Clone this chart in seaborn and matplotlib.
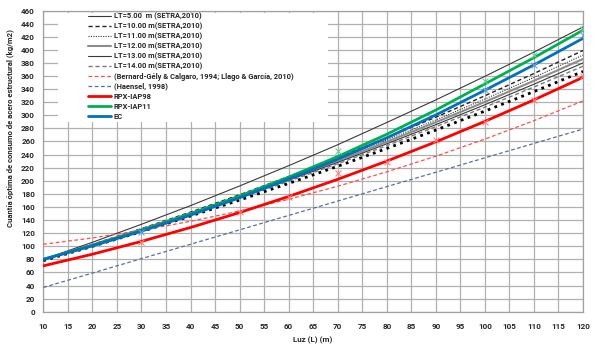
import numpy as np
import pandas as pd
import matplotlib
matplotlib.use("Agg")
import matplotlib.pyplot as plt
from matplotlib.patches import Rectangle
import seaborn as sns

# Span L (m)
luz = [10, 20, 30, 40, 50, 60, 70, 80, 90, 100, 110, 120]

# Values (kg/m2)
lt05 = [80, 106, 133.5, 162, 192, 223, 255, 289, 323.5, 359.5, 396.5, 435]
lt10 = [80, 102.8, 126.9, 152.1, 178.6, 206.4, 235.4, 265.7, 297.1, 329.8, 363.8, 399]
lt11 = [80, 102.6, 126.3, 151.1, 177.2, 204.4, 232.8, 262.3, 292.9, 324.8, 357.8, 392]
lt12 = [80, 102.4, 125.7, 150.3, 175.9, 202.7, 230.4, 259.4, 289.4, 320.5, 352.7, 386]
lt13 = [80, 102.1, 125.2, 149.4, 174.5, 200.8, 228, 256.4, 285.7, 316.1, 347.5, 380]
lt14 = [80, 101.8, 124.6, 148.5, 173.3, 199.1, 225.9, 253.7, 282.6, 312.4, 343.2, 375]
extra_dotted = [78, 99.8, 122.4, 146.1, 170.5, 195.9, 222.1, 249.3, 277.4, 306.4, 336.2, 367]
bernard = [103, 112.6, 124.3, 138, 153.8, 171.7, 191.6, 213.6, 237.5, 263.6, 291.8, 322]
haensel = [37, 59, 81, 103, 125, 147, 169, 191, 213, 235, 257, 279]
rpx98 = [70, 87.8, 107.4, 128.6, 151.4, 176, 202.2, 230, 259.4, 290.7, 323.5, 358]
rpx11 = [80, 101, 124, 149.5, 176.5, 205.5, 237, 271, 308, 347.9, 388, 430]
ec = [80, 100.5, 123, 147.5, 174, 202.5, 233, 265.5, 300.5, 338.3, 377, 417.5]

# scattered marker points
rpx98_pts_x = [30, 50, 60, 70, 80, 90, 100, 110, 120]
rpx98_pts_y = [107, 152, 175, 212, 229, 263, 290, 324, 360]
rpx11_pts_x = [70, 100, 110, 120]
rpx11_pts_y = [245, 352, 392, 432]
ec_pts_x = [30, 100, 110, 120]
ec_pts_y = [122, 339, 377, 422]

sns.set_style("white")
plt.rcParams['font.family'] = ['Roboto', 'DejaVu Sans']
plt.rcParams['font.weight'] = 'bold'

fig = plt.figure(figsize=(6, 3.51), dpi=100)
ax = fig.add_axes([0.0722, 0.112, 0.8995, 0.858])

series = [
    (lt05, 'LT=5.00  m (SETRA,2010)', dict(color='#3a3a3a', lw=0.8, ls='-')),
    (lt10, 'LT=10.00 m(SETRA,2010)', dict(color='#222222', lw=1.0, ls=(0, (3, 2)))),
    (lt11, 'LT=11.00 m(SETRA,2010)', dict(color='#333333', lw=0.8, ls=(0, (1, 1.2)))),
    (lt12, 'LT=12.00 m(SETRA,2010)', dict(color='#8c8c8c', lw=1.5, ls='-')),
    (lt13, 'LT=13.00 m(SETRA,2010)', dict(color='#3a3a3a', lw=0.8, ls='-')),
    (lt14, 'LT=14.00 m(SETRA,2010)', dict(color='#7a7a7a', lw=1.0, ls=(0, (3, 2)))),
    (extra_dotted, '_nolegend_', dict(color='#000000', lw=2.0, ls=(0, (1, 1.6)))),
    (bernard, '(Bernard-Gély & Calgaro, 1994; Llago & García, 2010)',
     dict(color='#ff4d4d', lw=0.9, ls=(0, (3, 2)))),
    (haensel, '(Haensel, 1998)', dict(color='#5a6f96', lw=0.9, ls=(0, (3, 2)))),
    (rpx98, 'RPX-IAP98', dict(color='#ff0000', lw=2.0, ls='-')),
    (rpx11, 'RPX-IAP11', dict(color='#00b050', lw=2.0, ls='-')),
    (ec, 'EC', dict(color='#0070c0', lw=2.0, ls='-')),
]

for vals, lab, st in series:
    sns.lineplot(x=luz, y=vals, ax=ax, label=lab, color=st['color'],
                 linewidth=st['lw'], linestyle=st['ls'], zorder=3)

sns.scatterplot(x=rpx98_pts_x, y=rpx98_pts_y, ax=ax, marker='x', s=18,
                color='#ff8080', linewidth=0.8, zorder=4, legend=False)
sns.scatterplot(x=rpx11_pts_x, y=rpx11_pts_y, ax=ax, marker='x', s=18,
                color='#66cc99', linewidth=0.8, zorder=4, legend=False)
sns.scatterplot(x=ec_pts_x, y=ec_pts_y, ax=ax, marker='x', s=18,
                color='#66aadd', linewidth=0.8, zorder=4, legend=False)

ax.set_xlim(10, 120)
ax.set_ylim(0, 460)
ax.set_xticks(np.arange(10, 121, 5))
ax.set_yticks(np.arange(0, 461, 20))
ax.grid(True, color='#b0b0b0', lw=0.9)
ax.set_axisbelow(True)
for sp in ax.spines.values():
    sp.set_color('#a0a0a0')
    sp.set_linewidth(0.9)
ax.tick_params(axis='both', labelsize=5.8, length=3, color='#a0a0a0',
               direction='out', pad=3)
ax.tick_params(axis='x', pad=5)

ax.set_xlabel('Luz (L) (m)', fontsize=5.8, fontweight='bold')
ax.set_ylabel('Cuantía óptima de consumo de acero estructural (kg/m2)',
              fontsize=5.6, fontweight='bold')
ax.xaxis.set_label_coords(0.5, -0.082)
ax.yaxis.set_label_coords(-0.054, 0.61)

# white area behind the legend
ax.add_patch(Rectangle((0.027, 0.63), 0.50, 0.362, transform=ax.transAxes,
                       facecolor='white', edgecolor='none', zorder=1))

leg = ax.legend(loc='upper left', bbox_to_anchor=(0.083, 0.993), frameon=False,
                fontsize=5.4, handlelength=3.0, handletextpad=0.4,
                labelspacing=0.27, borderpad=0, borderaxespad=0)
leg.set_zorder(5)

plt.savefig('out.png', dpi=100)
